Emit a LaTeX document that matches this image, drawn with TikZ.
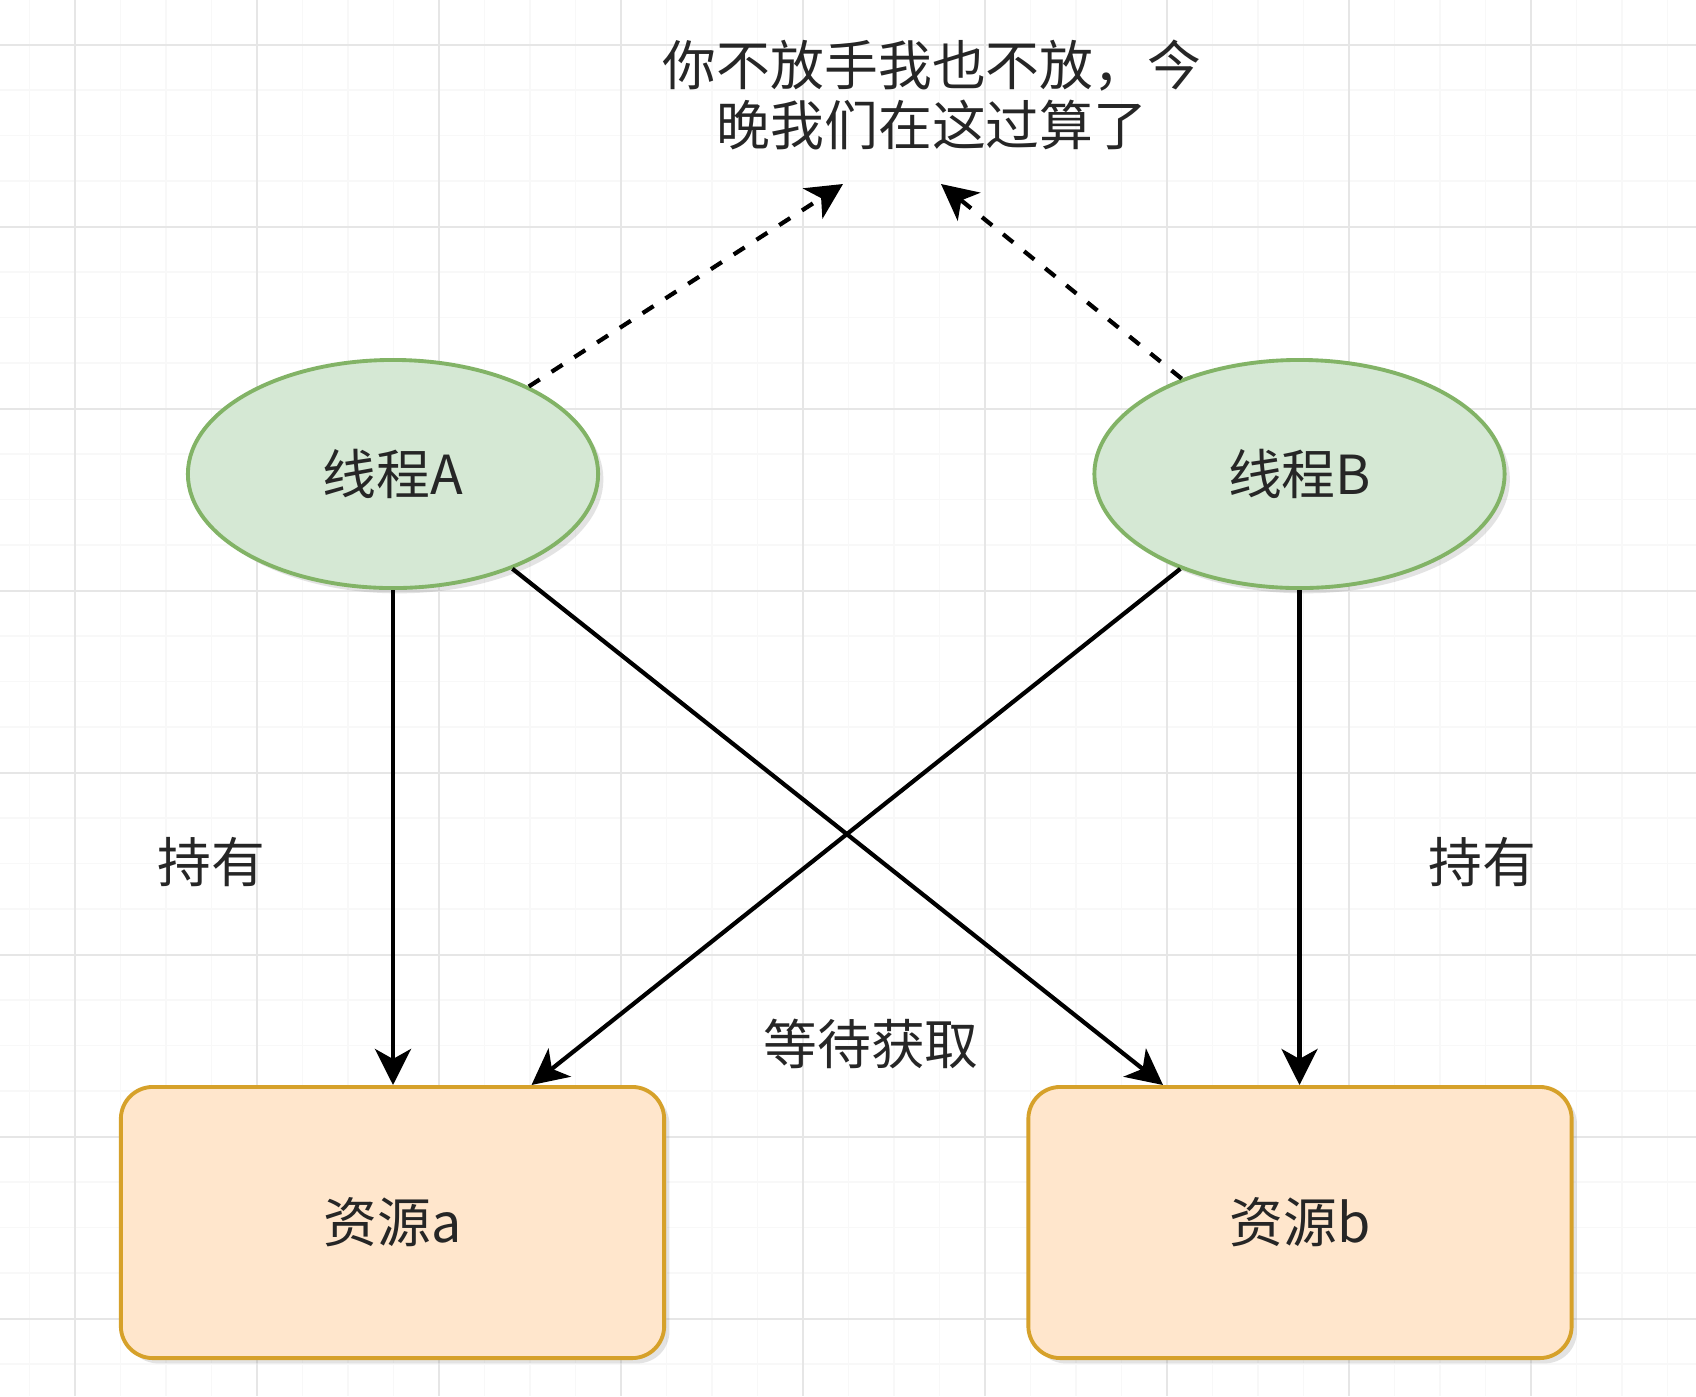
\documentclass[tikz,border=0pt]{standalone}
\usepackage{fontspec}
\setmainfont{Noto Sans CJK SC}
\usetikzlibrary{shapes.geometric,arrows.meta,shadows,calc}
\definecolor{thrfill}{HTML}{D5E8D4}
\definecolor{thrline}{HTML}{82B366}
\definecolor{resfill}{HTML}{FFE6CC}
\definecolor{resline}{HTML}{D6A12A}
\definecolor{gridmaj}{HTML}{E6E6E6}
\definecolor{gridmin}{HTML}{F8F8F8}
\begin{document}
\begin{tikzpicture}[x=0.01cm,y=-0.01cm,
  txt/.style={font=\fontsize{15.3pt}{17pt}\selectfont, text=black!85},
  thread/.style={ellipse, draw=thrline, fill=thrfill, line width=1.1pt,
    minimum width=4.1cm, minimum height=2.28cm, inner sep=0pt, txt,
    drop shadow={shadow xshift=1.5pt, shadow yshift=-1.5pt, opacity=0.22, fill=gray}},
  resource/.style={rectangle, rounded corners=0.32cm, draw=resline, fill=resfill, line width=1.1pt,
    minimum width=5.43cm, minimum height=2.71cm, inner sep=0pt, txt,
    drop shadow={shadow xshift=1.5pt, shadow yshift=-1.5pt, opacity=0.22, fill=gray}},
  conn/.style={line width=1.2pt, -{Stealth[length=0.36cm, width=0.36cm, inset=0.1cm]}},
  dconn/.style={conn, dash pattern=on 3.7pt off 4pt}
]
\useasboundingbox (0,0) rectangle (1696,1396);
\fill[white] (0,0) rectangle (1696,1396);
% grid
\foreach \g in {29.5,75,...,1700} {
  \draw[gridmin, line width=0.5pt] (\g,0) -- (\g,1396);
}
\foreach \g in {44.5,90,...,1400} {
  \draw[gridmin, line width=0.5pt] (0,\g) -- (1696,\g);
}
\foreach \g in {75,257,...,1700} {
  \draw[gridmaj, line width=0.7pt] (\g,0) -- (\g,1396);
}
\foreach \g in {45,227,...,1400} {
  \draw[gridmaj, line width=0.7pt] (0,\g) -- (1696,\g);
}

% nodes
\node[thread] (A) at (393,474) {线程A};
\node[thread] (B) at (1299.5,474) {线程B};
\node[resource] (ra) at (392.5,1222.5) {资源a};
\node[resource] (rb) at (1300,1222.5) {资源b};

\node[txt, align=center] (title) at (932,95) {你不放手我也不放，今\\晚我们在这过算了};
\node[txt] (holdA) at (211,862) {持有};
\node[txt] (holdB) at (1482,862) {持有};
\node[txt] (wait) at (871,1044) {等待获取};

% free ends
\coordinate (tipL) at (843,184);
\coordinate (tipR) at (941,184);
\coordinate (rbin) at ($(rb.north)+(-137,0)$);
\coordinate (rain) at ($(ra.north)+(139,0)$);

% connectors
\draw[dconn] (A) -- (tipL);
\draw[dconn] (B) -- (tipR);
\draw[conn] (A.south) -- (A.south |- ra.north);
\draw[conn] (B.south) -- (B.south |- rb.north);
\draw[conn] (A) -- (rbin);
\draw[conn] (B) -- (rain);
\end{tikzpicture}
\end{document}
